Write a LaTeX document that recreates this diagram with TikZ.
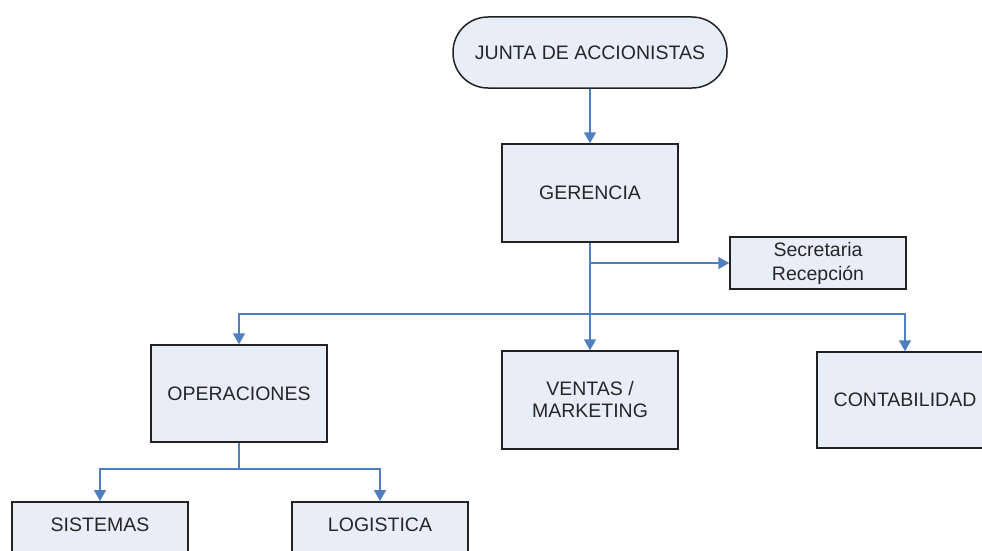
\documentclass[tikz,border=0pt]{standalone}
\usepackage{fontspec}
\setmainfont{Liberation Sans}
\usetikzlibrary{arrows.meta}
\definecolor{boxfill}{HTML}{E8EEF8}
\definecolor{boxdraw}{HTML}{222222}
\definecolor{linkblue}{HTML}{4F7FBF}
\begin{document}
\begin{tikzpicture}[x=1pt,y=-1pt,
  orgbox/.style={draw=boxdraw,line width=1.5pt,fill=boxfill,minimum width=176pt,
    align=center,font=\fontsize{19.5}{22}\selectfont,text=black!85},
  toplink/.style={draw=linkblue,line width=1.5pt,-{Triangle[width=12pt,length=11pt]}},
  plainlink/.style={draw=linkblue,line width=1.5pt}]
\clip (0,0) rectangle (982,551);
\fill[white] (0,0) rectangle (982,551);
\node[orgbox,minimum width=274pt,minimum height=71pt,rounded corners=35pt] (junta) at (590,52.5) {JUNTA DE ACCIONISTAS};
\node[orgbox,minimum height=98pt] (ger) at (590,193) {GERENCIA};
\node[orgbox,minimum height=52pt,font=\fontsize{19.5}{24}\selectfont] (sec) at (818,263) {Secretaria\\Recepción};
\node[orgbox,minimum height=97pt] (ope) at (239,393.5) {OPERACIONES};
\node[orgbox,minimum height=98pt] (ven) at (590,400) {VENTAS /\\MARKETING};
\node[orgbox,minimum height=96pt] (con) at (905,400) {CONTABILIDAD};
\node[orgbox,anchor=north,inner ysep=16pt,text height=14pt,text depth=60pt] (sis) at (100,501) {SISTEMAS};
\node[orgbox,anchor=north,inner ysep=16pt,text height=14pt,text depth=60pt] (log) at (380,501) {LOGISTICA};
\coordinate (j1) at (590,263);
\coordinate (j2) at (590,314);
\coordinate (j3) at (239,469);
\draw[toplink] (junta.south) -- (ger.north);
\draw[toplink] (ger.south) -- (ven.north);
\draw[toplink] (j1) -- (sec.west);
\draw[toplink] (j2) -| (ope.north);
\draw[toplink] (j2) -| (con.north);
\draw[plainlink] (ope.south) -- (j3);
\draw[toplink] (j3) -| (sis.north);
\draw[toplink] (j3) -| (log.north);
\end{tikzpicture}
\end{document}
